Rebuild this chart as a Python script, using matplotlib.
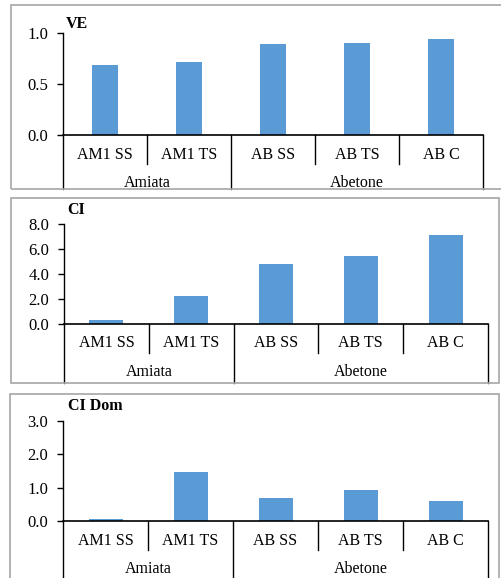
import matplotlib.pyplot as plt
from matplotlib.patches import Rectangle

# -------------------------------------------------
# Data
# -------------------------------------------------
categories = ["AM1 SS", "AM1 TS", "AB SS", "AB TS", "AB C"]
groups = ["Amiata", "Abetone"]
group_sizes = [2, 3]

ve_values = [0.69, 0.72, 0.89, 0.90, 0.94]
ci_values = [0.30, 2.24, 4.81, 5.42, 7.12]
ci_dom_values = [0.06, 1.46, 0.70, 0.93, 0.61]

titles = ["VE", "CI", "CI Dom"]
y_max = [1.0, 8.0, 3.0]
y_ticks = [[0.0, 0.5, 1.0], [0.0, 2.0, 4.0, 6.0, 8.0], [0.0, 1.0, 2.0, 3.0]]

BAR_COLOR = "#5B9BD5"
BOX_COLOR = "#A6A6A6"

# -------------------------------------------------
# Layout (pixels)
# -------------------------------------------------
W, H = 501, 578
plt.rcParams["font.family"] = ["Liberation Serif", "DejaVu Serif"]

# box (left, top, right, bottom), axes (left, right, top_y, zero_y),
# short tick bottom, category label y, group label y, bar width
panels = [
    dict(box=(11, 5, 510, 189), ax=(63, 483, 33, 135), short=164,
         cat_y=155, grp_y=183, width=0.31, title_x=66, title_y=24),
    dict(box=(11, 198, 499, 383), ax=(64, 488, 224, 324), short=353,
         cat_y=343, grp_y=372, width=0.40, title_x=67, title_y=210),
    dict(box=(10, 394, 499, 590), ax=(63, 488, 421, 521), short=550,
         cat_y=541, grp_y=569, width=0.40, title_x=68, title_y=406),
]
series = [ve_values, ci_values, ci_dom_values]

fig = plt.figure(figsize=(W / 100, H / 100), dpi=100)

for p, values, title, ymax, ticks in zip(panels, series, titles, y_max, y_ticks):
    # panel border
    bl, bt, br, bb = p["box"]
    fig.patches.append(Rectangle((bl / W, 1 - bb / H), (br - bl) / W, (bb - bt) / H,
                                 transform=fig.transFigure, fill=False,
                                 edgecolor=BOX_COLOR, linewidth=1.2))

    x0, x1, yt, yz = p["ax"]
    ax = fig.add_axes([x0 / W, 1 - yz / H, (x1 - x0) / W, (yz - yt) / H])
    ax.set_facecolor("none")

    ax.bar(range(len(categories)), values, width=p["width"], color=BAR_COLOR, zorder=2)
    ax.set_xlim(-0.5, len(categories) - 0.5)
    ax.set_ylim(0, ymax)
    ax.set_yticks(ticks)
    ax.set_yticklabels([f"{t:.1f}" for t in ticks], fontsize=12)
    ax.tick_params(axis="y", direction="out", length=4, width=1, pad=6.5)
    ax.set_xticks([])

    for side in ["top", "right"]:
        ax.spines[side].set_visible(False)
    ax.spines["left"].set_linewidth(1)
    ax.spines["bottom"].set_linewidth(1.2)

    # convert a pixel row into axes fraction
    def ay(py):
        return (yz - py) / (yz - yt)

    # category labels and short separators
    for i, cat in enumerate(categories):
        ax.text(i, ay(p["cat_y"]), cat, ha="center", va="center", fontsize=11.5,
                transform=ax.get_xaxis_transform())

    boundaries = [-0.5]
    for n in group_sizes:
        boundaries.append(boundaries[-1] + n)
    for i in range(len(categories) + 1):
        xb = i - 0.5
        bottom = p["box"][3] if xb in boundaries else p["short"]
        ax.plot([xb, xb], [0, ay(bottom)], color="black", linewidth=1,
                transform=ax.get_xaxis_transform(), clip_on=False)

    # group labels
    for g, lo, hi in zip(groups, boundaries[:-1], boundaries[1:]):
        ax.text((lo + hi) / 2, ay(p["grp_y"]), g, ha="center", va="center",
                fontsize=11.5, transform=ax.get_xaxis_transform())

    # panel title
    fig.text(p["title_x"] / W, 1 - p["title_y"] / H, title, ha="left", va="center",
             fontsize=11.5, fontweight="bold")

fig.savefig("out.png", dpi=100)
